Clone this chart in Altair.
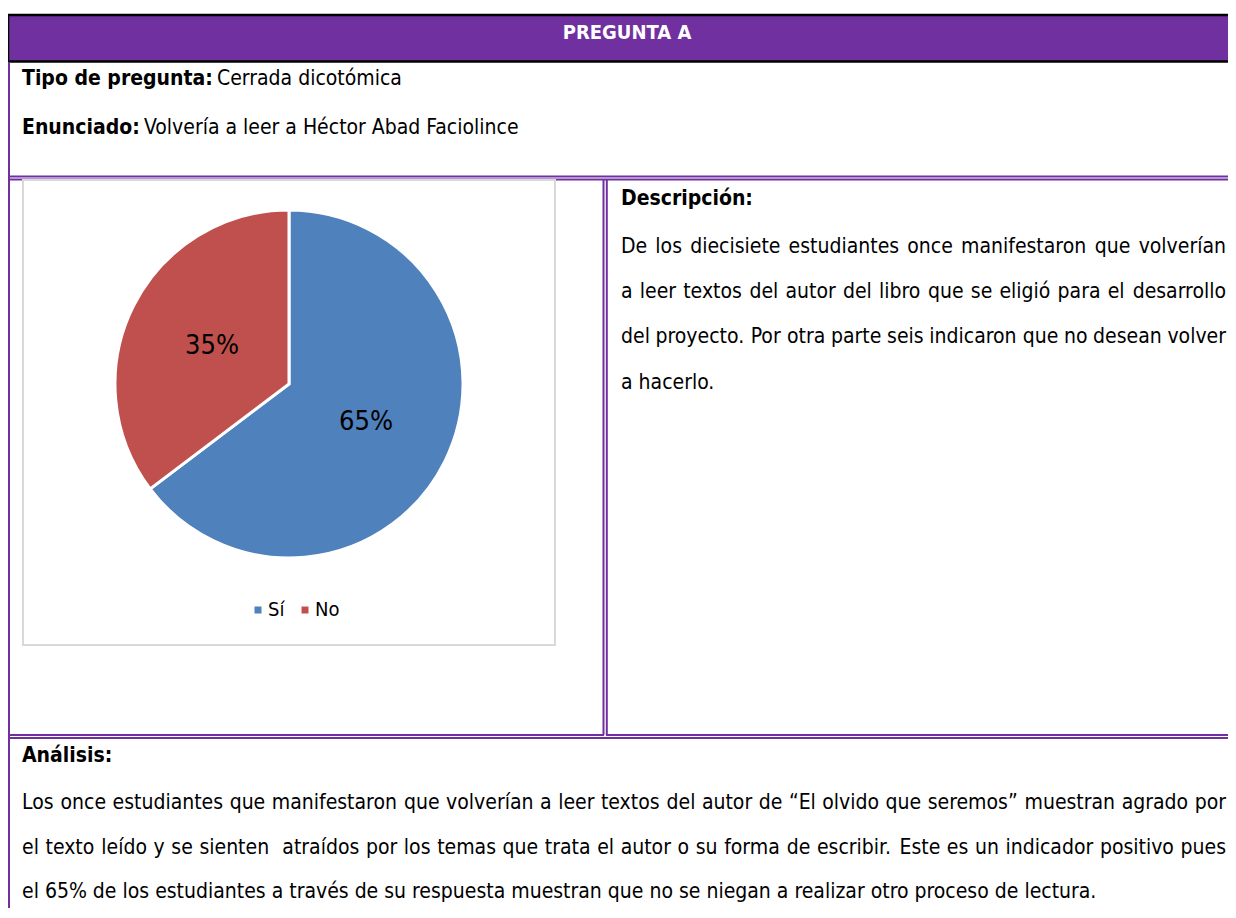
import unicodedata
import altair as alt
import pandas as pd

# ---------------- data ----------------
categories = ["Sí", "No"]
counts = [11, 6]
slice_colors = ["#4F81BD", "#C0504D"]

header_text = "PREGUNTA A"
tipo_label = "Tipo de pregunta:"
tipo_value = "Cerrada dicotómica"
enun_label = "Enunciado:"
enun_value = "Volvería a leer a Héctor Abad Faciolince"
desc_title = "Descripción:"
desc_lines = [
    "De los diecisiete estudiantes once manifestaron que volverían",
    "a leer textos del autor del libro que se eligió para el desarrollo",
    "del proyecto. Por otra parte seis indicaron que no desean volver",
    "a hacerlo.",
]
anal_title = "Análisis:"
anal_lines = [
    "Los once estudiantes que manifestaron que volverían a leer textos del autor de “El olvido que seremos” muestran agrado por",
    "el texto leído y se sienten  atraídos por los temas que trata el autor o su forma de escribir. Este es un indicador positivo pues",
    "el 65% de los estudiantes a través de su respuesta muestran que no se niegan a realizar otro proceso de lectura.",
]

# ---------------- style / layout ----------------
FONT = "DejaVu Sans Condensed, DejaVu Sans, sans-serif"
FS = 21
PURPLE = "#7030A0"
OX, OY = 8, 8  # page offset of the chart origin
CW, CH = 1220, 900
RIGHT = 1226   # right edge used for justified lines (page px)

# approximate advance widths (DejaVu Sans, units per em 2048) used to justify lines
ADV = {
    " ": 651, ".": 651, ",": 651, ":": 690, "%": 1946, "“": 1040, "”": 1040,
    "a": 1255, "b": 1300, "c": 1126, "d": 1300, "e": 1260, "f": 721, "g": 1300,
    "h": 1298, "i": 569, "j": 569, "k": 1186, "l": 569, "m": 1995, "n": 1298,
    "o": 1253, "p": 1300, "q": 1300, "r": 842, "s": 1067, "t": 803, "u": 1298,
    "v": 1212, "w": 1675, "x": 1212, "y": 1212, "z": 1075,
    "D": 1577, "E": 1294, "L": 1141, "P": 1235,
}
for d in "0123456789":
    ADV[d] = 1303


def text_w(s, size=FS):
    tot = 0
    for c in s:
        b = unicodedata.normalize("NFD", c)[0]
        tot += ADV.get(b, 1250)
    return tot / 2048 * size * 0.9


def justify(line, x0, x1, y):
    toks = line.split(" ")
    words, spaces_before = [], []
    pending = 0
    for t in toks:
        if t == "":
            pending += 1
            continue
        words.append(t)
        spaces_before.append(pending if words[:-1] else 0)
        pending = 1
    widths = [text_w(w) for w in words]
    nsp = sum(spaces_before)
    sp = (x1 - x0 - sum(widths)) / nsp
    out = []
    x = x0
    for i, (w, wd) in enumerate(zip(words, widths)):
        x += spaces_before[i] * sp
        if i == len(words) - 1:
            out.append({"t": w, "px": x1 - OX, "py": y - OY, "al": "right"})
        else:
            out.append({"t": w, "px": x - OX, "py": y - OY, "al": "left"})
        x += wd
    return out


pie_df = pd.DataFrame({"cat": categories, "n": counts, "ord": [0, 1]})
dummy = pd.DataFrame({"k": [0]})


def X(v):
    return alt.value(v - OX)


def Y(v):
    return alt.value(v - OY)


def hline(x1, x2, y, color=PURPLE, w=2):
    return alt.Chart(dummy).mark_rule(color=color, strokeWidth=w).encode(
        x=X(x1), x2=X(x2), y=Y(y), y2=Y(y))


def vline(x, y1, y2, color=PURPLE, w=2):
    return alt.Chart(dummy).mark_rule(color=color, strokeWidth=w).encode(
        x=X(x), x2=X(x), y=Y(y1), y2=Y(y2))


def txt(s, x, y, size=FS, bold=False, align="left", color="black"):
    return alt.Chart(dummy).mark_text(
        text=s, font=FONT, fontSize=size, fontWeight="bold" if bold else "normal",
        align=align, baseline="alphabetic", color=color
    ).encode(x=X(x), y=Y(y))


XR = OX + CW          # right edge of the drawing (page px)
YB = OY + CH          # bottom edge of the drawing (page px)

layers = []

# header band
layers.append(alt.Chart(dummy).mark_rect(color=PURPLE).encode(
    x=X(8), x2=X(XR), y=Y(15), y2=Y(61)))
layers.append(hline(7, XR, 15, "black", 2.5))
layers.append(hline(7, XR, 61.5, "black", 2.5))
layers.append(vline(8, 14, 62, "black", 2.5))
layers.append(txt(header_text, 627, 39, 20, True, "center", "white"))

# borders and cell grid
layers.append(vline(8.5, 62, YB, PURPLE, 3))
layers.append(hline(8, XR, 176.5, PURPLE, 2))
layers.append(hline(8, XR, 179.5, PURPLE, 2))
layers.append(vline(603.5, 179, 735, PURPLE, 2))
layers.append(vline(606.8, 179, 735, PURPLE, 2))
layers.append(hline(8, 604, 735, PURPLE, 2))
layers.append(hline(606, XR, 735, PURPLE, 2))
layers.append(hline(8, XR, 738, PURPLE, 2))

# chart frame
layers.append(alt.Chart(dummy).mark_rect(fill="white", stroke="#D9D9D9", strokeWidth=2).encode(
    x=X(23), x2=X(555), y=Y(180), y2=Y(645)))

# label texts
layers.append(txt(tipo_label, 22, 85, FS, True))
layers.append(txt(tipo_value, 217, 85))
layers.append(txt(enun_label, 22, 134, FS, True))
layers.append(txt(enun_value, 144, 134))
layers.append(txt(desc_title, 621, 205, FS, True))
layers.append(txt(anal_title, 22, 762, FS, True))

# paragraphs (justified as in the document)
words = []
for s, yb in zip(desc_lines[:3], [253, 298, 343]):
    words += justify(s, 621, RIGHT, yb)
words.append({"t": desc_lines[3], "px": 621 - OX, "py": 389 - OY, "al": "left"})
for s, yb in zip(anal_lines[:2], [809, 854]):
    words += justify(s, 22, RIGHT, yb)
words.append({"t": anal_lines[2], "px": 22 - OX, "py": 898 - OY, "al": "left"})
wdf = pd.DataFrame(words)
for al in ["left", "right"]:
    sub = wdf[wdf["al"] == al]
    layers.append(alt.Chart(sub).mark_text(
        font=FONT, fontSize=FS, align=al, baseline="alphabetic", color="black"
    ).encode(x=alt.X("px:Q", scale=None), y=alt.Y("py:Q", scale=None), text="t:N"))

# pie
base = alt.Chart(pie_df).transform_joinaggregate(total="sum(n)").transform_calculate(
    pct="format(datum.n / datum.total, '.0%')")
arc = base.mark_arc(outerRadius=174, stroke="white", strokeWidth=3).encode(
    theta=alt.Theta("n:Q", stack=True),
    order=alt.Order("ord:Q"),
    color=alt.Color("cat:N", scale=alt.Scale(domain=categories, range=slice_colors),
                    legend=alt.Legend(orient="none", legendX=240, legendY=592, direction="horizontal",
                                      title=None, symbolType="square", symbolSize=49,
                                      labelFont=FONT, labelFontSize=20, labelColor="black",
                                      labelOffset=0, columnPadding=10,
                                      symbolStrokeWidth=0, padding=0)),
    x=X(289), y=Y(384),
)
labels = base.mark_text(radius=86, font=FONT, fontSize=27, color="black",
                        align="center", baseline="middle").encode(
    theta=alt.Theta("n:Q", stack=True),
    order=alt.Order("ord:Q"),
    text="pct:N",
    x=X(289), y=Y(384),
)
layers.append(arc)
layers.append(labels)

chart = alt.layer(*layers).properties(
    width=CW, height=CH, padding=0,
    autosize=alt.AutoSizeParams(type="none"),
).configure_view(stroke=None)

chart.save("out.html", embed_options={"renderer": "svg", "actions": False})
